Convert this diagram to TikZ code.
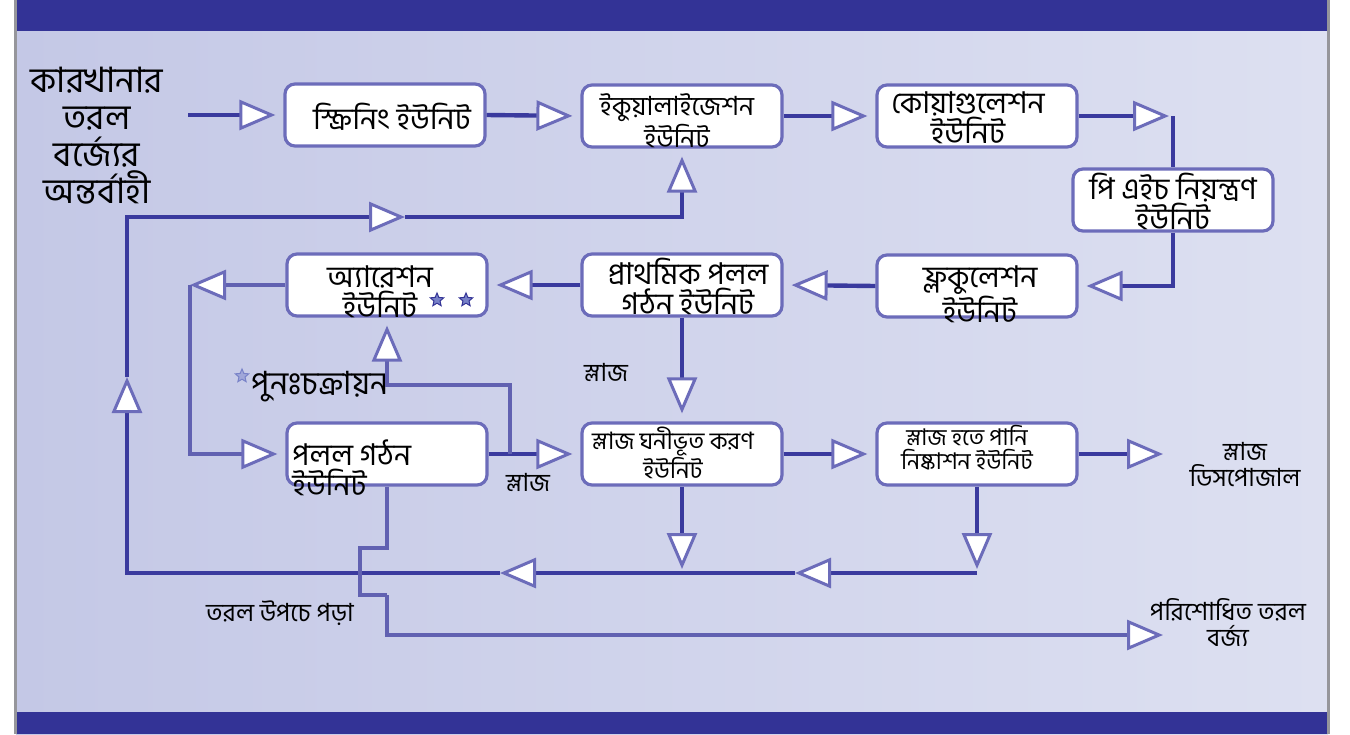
\documentclass[tikz,border=0pt]{standalone}
\usepackage{fontspec}
\newfontfamily\bn[Script=Bengali]{Hind Siliguri}
\usetikzlibrary{arrows.meta,shapes.geometric}
\definecolor{band}{RGB}{51,51,150}
\definecolor{flowline}{RGB}{58,58,158}
\definecolor{rim}{RGB}{108,108,186}
\definecolor{panelL}{RGB}{196,200,230}
\definecolor{panelR}{RGB}{221,224,241}
\definecolor{frame}{RGB}{150,150,155}
\definecolor{starblue}{RGB}{120,130,200}
\tikzset{>={Triangle[length=18pt,width=15pt,fill=white,color=rim,line width=1.5pt]}}
\tikzset{
  unit/.style={draw=rim,line width=1.6pt,rounded corners=5pt,fill=white,
    minimum width=100pt,minimum height=31pt,inner sep=0pt},
  utext/.style={align=center,inner sep=0pt,font=\bn\fontsize{15}{15}\selectfont},
  usmall/.style={align=center,inner sep=0pt,font=\bn\fontsize{12}{12}\selectfont},
  note/.style={align=center,inner sep=0pt,font=\bn\fontsize{12.5}{13}\selectfont},
  flow/.style={draw=flowline,line width=2.2pt},
  thinflow/.style={draw=flowline!80,line width=1.6pt},
  gap/.style={shorten >=4pt},
  deco/.style={star,star points=5,star point ratio=2.2,minimum size=7pt,inner sep=0pt,
    fill=starblue,draw=band,line width=0.5pt}
}

\begin{document}
\begin{tikzpicture}[x=0.5pt,y=-0.5pt]
  \useasboundingbox (0,0) rectangle (1350,734);
  \fill[white] (0,0) rectangle (1350,734);
  \shade[left color=panelL,right color=panelR] (16,0) rectangle (1328,734);
  \fill[band] (16,0) rectangle (1328,31);
  \fill[band] (16,712) rectangle (1328,734);
  \draw[frame,line width=1.5pt] (15,0) -- (15,734);
  \draw[frame,line width=1.5pt] (1328,0) -- (1328,734);

  \node[unit] (screen) at (385,115) {};
  \node[unit] (equal) at (682,116) {};
  \node[unit] (coag) at (977,116) {};
  \node[unit] (ph) at (1173,200) {};
  \node[unit] (floc) at (977,286) {};
  \node[unit] (prim) at (682,285) {};
  \node[unit] (aer) at (387,285) {};
  \node[unit] (secd) at (387,454) {};
  \node[unit] (thick) at (682,454) {};
  \node[unit] (dewat) at (977,454) {};

  \node[utext] (screen-t) at (392,117) {স্ক্রিনিং ইউনিট};
  \node[utext,font=\bn\fontsize{13.2}{16}\selectfont] (equal-t) at (677,121) {ইকুয়ালাইজেশন\\ইউনিট};
  \node[utext] (coag-t) at (968,118) {কোয়াগুলেশন\\ইউনিট};
  \node[utext] (ph-t) at (1173,201) {পি এইচ নিয়ন্ত্রণ\\ইউনিট};
  \node[utext] (floc-t) at (980,294) {ফ্লকুলেশন\\ইউনিট};
  \node[utext] (prim-t) at (688,286) {প্রাথমিক পলল\\গঠন ইউনিট};
  \node[utext] (aer-t) at (380,292) {অ্যারেশন\\ইউনিট};
  \node[utext,align=left,anchor=west] (secd-t) at (292,468) {পলল গঠন\\ইউনিট};
  \node[usmall] (thick-t) at (673,453) {স্লাজ ঘনীভূত করণ\\ইউনিট};
  \node[usmall,font=\bn\fontsize{11.5}{12}\selectfont] (dewat-t) at (967,448) {স্লাজ হতে পানি\\নিষ্কাশন ইউনিট};

  \node[deco] (st1) at (437,300) {};
  \node[deco] (st2) at (466,300) {};
  \node[deco,fill=starblue!70,draw=starblue] (st3) at (242,376) {};

  \node[align=center,inner sep=0pt,font=\bn\fontsize{17.5}{18.5}\selectfont] (inlet) at (97,136)
    {কারখানার\\তরল\\বর্জ্যের\\অন্তর্বাহী};
  \node[note] (disposal) at (1245,465) {স্লাজ\\ডিসপোজাল};
  \node[note] (treated) at (1228,622) {পরিশোধিত তরল\\বর্জ্য};
  \node[note] (overflow) at (280,613) {তরল উপচে পড়া};
  \node[note] (sl1) at (606,372) {স্লাজ};
  \node[note] (sl2) at (528,482) {স্লাজ};
  \node[utext,font=\bn\fontsize{16}{18}\selectfont,anchor=east] (recyc) at (389,387) {পুনঃচক্রায়ন};

  \coordinate (feed) at (188,115);
  \coordinate (c1) at (1173,116);
  \coordinate (a1) at (190,285);
  \coordinate (r1) at (510,454);
  \coordinate (r2) at (510,385);
  \coordinate (t1) at (682,573);
  \coordinate (d1) at (977,573);
  \coordinate (m1) at (795,573);
  \coordinate (m2) at (500,573);
  \coordinate (m3) at (127,377);
  \coordinate (m4) at (405,217);
  \coordinate (o1) at (387,548);
  \coordinate (o2) at (360,548);
  \coordinate (o3) at (360,595);
  \coordinate (o4) at (387,595);
  \coordinate (outlet) at (1163,635);
  \coordinate (sludge) at (1163,454);

  \draw[flow,->,gap] (feed) -- (screen.west);
  \draw[flow,->,gap] (screen.east) -- (equal.west);
  \draw[flow,->,gap] (equal.east) -- (coag.west);
  \draw[flow,->,shorten >=2pt] (coag.east) -- (c1);
  \draw[flow] (c1) -- (ph.north);
  \draw[flow,->,gap] (ph.south) |- (floc.east);
  \draw[flow,->,gap] (floc.west) -- (prim.east);
  \draw[flow,->,gap] (prim.west) -- (aer.east);
  \draw[thinflow,->] (aer.west) -- (a1);
  \draw[thinflow,->,gap] (a1) |- (secd.west);
  \draw[flow,->,gap] (secd.east) -- (thick.west);
  \draw[thinflow,->,gap] (r1) -- (r2) -| (aer.south);
  \draw[flow,->,gap] (prim.south) -- (thick.north);
  \draw[flow,->,gap] (thick.east) -- (dewat.west);
  \draw[flow,->] (dewat.east) -- (sludge);
  \draw[flow,->,shorten >=2pt] (thick.south) -- (t1);
  \draw[flow,->,shorten >=2pt] (dewat.south) -- (d1);
  \draw[flow,->] (d1) -- (m1);
  \draw[flow] (m1) -- (t1);
  \draw[flow,->] (t1) -- (m2);
  \draw[flow,->] (m2) -| (m3);
  \draw[flow,->] (m3) |- (m4);
  \draw[flow,->,gap] (m4) -| (equal.south);
  \draw[thinflow] (secd.south) -- (o1) -- (o2) -- (o3) -- (o4);
  \draw[thinflow,->] (o4) |- (outlet);
\end{tikzpicture}
\end{document}
